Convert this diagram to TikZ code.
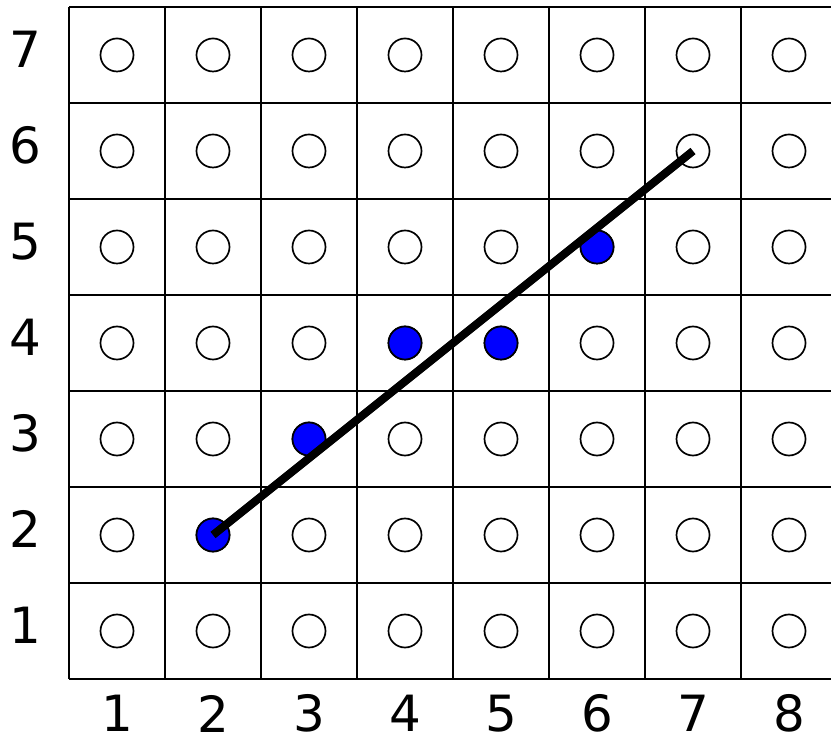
\documentclass[tikz,border=0pt]{standalone}
\usepackage{fontspec}
\setmainfont{DejaVu Sans}
\begin{document}
\begin{tikzpicture}[x=1cm,y=1cm,
  gridline/.style={line width=0.6pt},
  pix/.style={circle,draw,line width=0.5pt,minimum size=0.344cm,inner sep=0pt,fill=white},
  pixon/.style={pix,fill=blue},
  lbl/.style={font=\fontsize{14.8}{16}\selectfont,inner sep=0pt},
  ideal/.style={line width=2.4pt}]
\useasboundingbox (-0.71875,-0.6354) rectangle (7.9375,7.0729);
\foreach \k in {0,...,7}{
  \draw[gridline] (0,\k) -- (7.9375,\k);
  \draw[gridline] (\k,0) -- (\k,7);
}
\foreach \i in {1,...,8}{
  \foreach \j in {1,...,7}{
    \node[pix] (c-\i-\j) at (\i-0.5,\j-0.5) {};
  }
  \node[lbl] (xl-\i) at (\i-0.5,-0.36) {\i};
}
\foreach \j in {1,...,7}{
  \node[lbl] (yl-\j) at (-0.45,\j-0.44) {\j};
}
\foreach \i/\j in {2/2,3/3,4/4,5/4,6/5}{
  \node[pixon] at (c-\i-\j) {};
}
\draw[ideal] (c-2-2.center) -- (c-7-6.center);
\end{tikzpicture}
\end{document}
